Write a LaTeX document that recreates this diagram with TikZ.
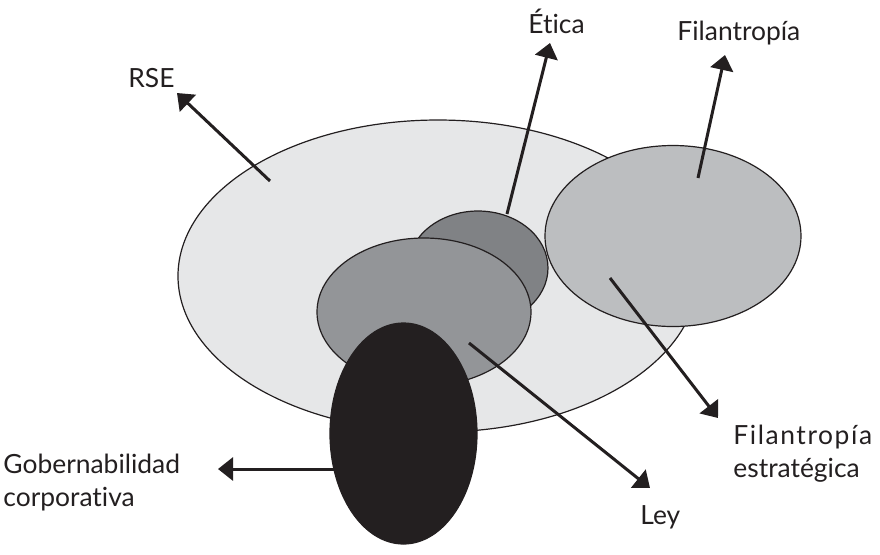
\documentclass[tikz,border=0pt]{standalone}
\usepackage{fontspec}
\setmainfont{Lato}[Ligatures=NoCommon]
\usetikzlibrary{shapes.geometric,arrows.meta}

\definecolor{ink}{HTML}{231F20}
\definecolor{rsegray}{HTML}{E6E7E8}
\definecolor{filgray}{HTML}{BCBEC0}
\definecolor{leygray}{HTML}{939598}
\definecolor{eticagray}{HTML}{808285}

\begin{document}
\begin{tikzpicture}[x=0.5pt, y=-0.5pt,
  blob/.style={ellipse, draw=ink, line width=0.6pt, inner sep=0pt},
  pointer/.style={draw=ink, line width=1.5pt, -{Triangle[length=7.5pt,width=11.5pt]}},
  lbl/.style={anchor=base west, inner sep=0pt, text=ink, font=\fontsize{13.2}{16}\selectfont}]

\useasboundingbox (0,0) rectangle (880,554);

% Ellipses
\node[blob, fill=rsegray, minimum width=260pt, minimum height=156pt] (rse) at (438,276) {};
\node[blob, fill=filgray, minimum width=128pt, minimum height=90.5pt] (fil) at (673,236) {};
\node[blob, fill=eticagray, minimum width=70pt, minimum height=57pt] (etica) at (478,268) {};
\node[blob, fill=leygray, minimum width=107pt, minimum height=74pt] (ley) at (424,312) {};
\node[blob, fill=ink, minimum width=73.5pt, minimum height=110.5pt] (gob) at (403.5,433.5) {};

% Arrow ends
\coordinate (rse-in) at (270,181);
\coordinate (rse-tip) at (177,93);
\coordinate (etica-in) at (507,214);
\coordinate (etica-tip) at (550,43);
\coordinate (fil-in) at (698,178);
\coordinate (fil-tip) at (725,55);
\coordinate (filest-in) at (610,278);
\coordinate (filest-tip) at (718,418);
\coordinate (ley-in) at (469,343);
\coordinate (ley-tip) at (650,488);
\coordinate (gob-tip) at (218,469);

\draw[pointer] (rse-in) -- (rse-tip);
\draw[pointer] (etica-in) -- (etica-tip);
\draw[pointer] (fil-in) -- (fil-tip);
\draw[pointer] (filest-in) -- (filest-tip);
\draw[pointer] (ley-in) -- (ley-tip);
\draw[pointer] (gob.center |- gob-tip) -- (gob-tip);

% Labels
\node[lbl] (rse-lbl) at (128,87) {RSE};
\node[lbl] (etica-lbl) at (528,33) {Ética};
\node[lbl] (fil-lbl) at (677,40) {Filantropía};
\node[lbl] (filest-lbl) at (733,444) {\addfontfeature{LetterSpace=6}Filantropía};
\node[lbl] (filest-lbl2) at (733,477) {estratégica};
\node[lbl] (ley-lbl) at (640,524) {Ley};
\node[lbl] (gob-lbl) at (3,473) {Gobernabilidad};
\node[lbl] (gob-lbl2) at (3,506) {corporativa};
\end{tikzpicture}
\end{document}
